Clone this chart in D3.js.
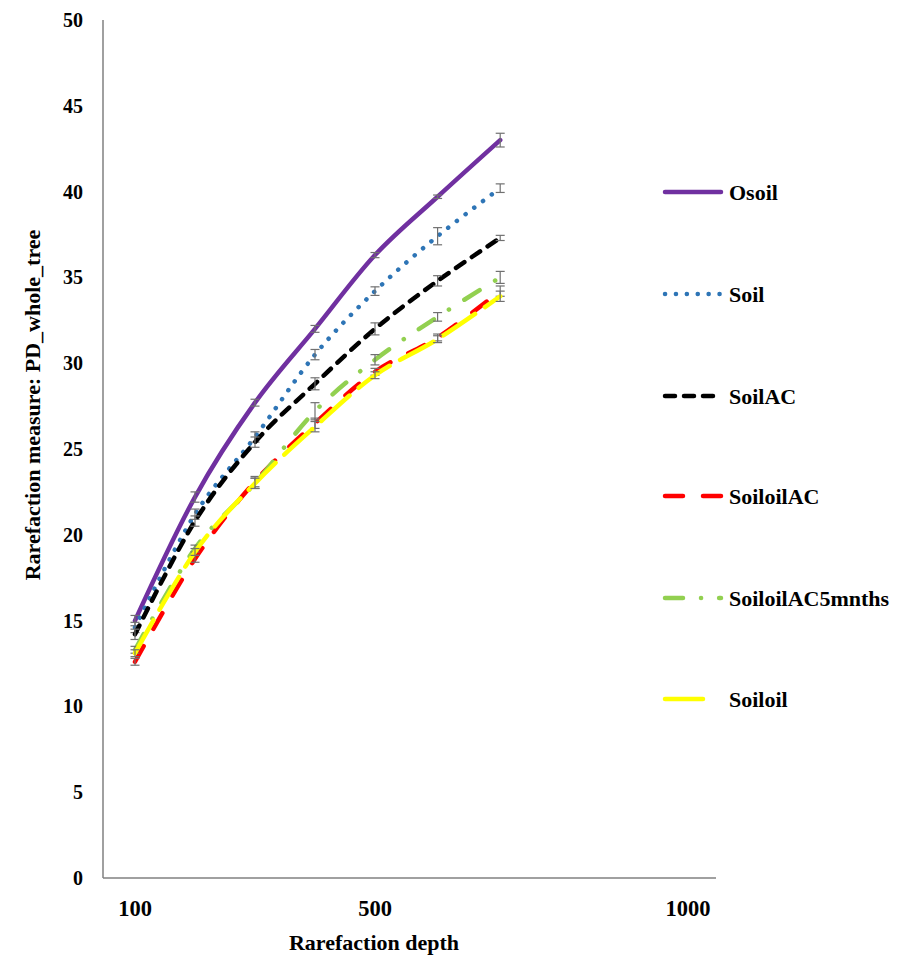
<!DOCTYPE html>
<html><head><meta charset="utf-8">
<script src="https://cdn.jsdelivr.net/npm/d3@7"></script>
<style>body{margin:0;background:#fff}svg{display:block}text{font-family:"Liberation Serif","Times New Roman",serif;font-weight:bold;fill:#000}</style>
</head><body><svg id="c" width="915" height="958"></svg>
<script>
const depths = [100, 200, 300, 400, 500, 600, 700];
const xTicks = [100, 500, 1000];
const yTicks = [0, 5, 10, 15, 20, 25, 30, 35, 40, 45, 50];
const seriesNames = ["Osoil", "Soil", "SoilAC", "SoiloilAC", "SoiloilAC5mnths", "Soiloil"];
const osoil = [15.0, 22.2, 27.7, 32.0, 36.3, 39.7, 43.0];
const soil = [14.6, 21.2, 25.7, 30.5, 34.2, 37.4, 40.2];
const soilAC = [14.2, 20.8, 25.4, 28.8, 32.0, 34.8, 37.3];
const soiloilAC = [12.6, 18.6, 23.1, 26.5, 29.5, 31.5, 34.2];
const soiloilAC5 = [13.3, 19.2, 23.0, 27.2, 30.2, 32.7, 35.0];
const soiloil = [13.1, 19.0, 23.0, 26.3, 29.3, 31.4, 33.9];
const errOsoil = [0.3, 0.3, 0.2, 0.2, 0.15, 0.1, 0.4];
const errSoil = [0.3, 0.3, 0.3, 0.3, 0.25, 0.5, 0.25];
const errSoilAC = [0.3, 0.3, 0.3, 0.35, 0.35, 0.3, 0.15];
const errSoiloilAC = [0.2, 0.2, 0.3, 0.3, 0.2, 0.2, 0.3];
const errSoiloilAC5 = [0.2, 0.2, 0.3, 0.5, 0.3, 0.25, 0.35];
const errSoiloil = [0.2, 0.2, 0.3, 0.3, 0.2, 0.2, 0.3];

const values = [osoil, soil, soilAC, soiloilAC, soiloilAC5, soiloil];
const errs = [errOsoil, errSoil, errSoilAC, errSoiloilAC, errSoiloilAC5, errSoiloil];
const styles = [
  {color:"#7030A0", dash:null, cap:"round"},
  {color:"#2E75B6", dash:"0.1,10.8", cap:"round"},
  {color:"#000000", dash:"10,9", cap:"round"},
  {color:"#FF0000", dash:"18,20", cap:"round"},
  {color:"#92D050", dash:"18,18,0.1,18", cap:"round"},
  {color:"#FFFF00", dash:"38,12", cap:"round"}
];

const svg = d3.select("#c");
const x = d3.scaleLinear().domain([100, 500, 1000]).range([135, 375, 688]);
const y = d3.scaleLinear().domain([0, 50]).range([878, 20]);
const left = 103, right = 716;

// axes
svg.append("line").attr("x1", left).attr("x2", left).attr("y1", y(50)).attr("y2", y(0))
  .attr("stroke", "#808080").attr("stroke-width", 1.5);
svg.append("line").attr("x1", left).attr("x2", right).attr("y1", y(0)).attr("y2", y(0))
  .attr("stroke", "#808080").attr("stroke-width", 1.5);

svg.append("g").selectAll("text").data(yTicks).join("text")
  .attr("x", 83).attr("y", d => y(d)).attr("dy", "0.35em").attr("text-anchor", "end")
  .attr("font-size", 20).text(d => d);
svg.append("g").selectAll("text").data(xTicks).join("text")
  .attr("x", d => x(d)).attr("y", 916).attr("text-anchor", "middle")
  .attr("font-size", 22.5).text(d => d);

svg.append("text").attr("x", 374).attr("y", 950).attr("text-anchor", "middle")
  .attr("font-size", 22).text("Rarefaction depth");
svg.append("text").attr("transform", "translate(40,405) rotate(-90)").attr("text-anchor", "middle")
  .attr("font-size", 22).text("Rarefaction measure: PD_whole_tree");

const line = d3.line().x((d, i) => x(depths[i])).y(d => y(d)).curve(d3.curveCardinal.tension(0));

values.forEach((vals, s) => {
  const st = styles[s];
  svg.append("path").datum(vals).attr("d", line).attr("fill", "none")
    .attr("stroke", st.color).attr("stroke-width", 4.5)
    .attr("stroke-linecap", st.cap).attr("stroke-linejoin", "round")
    .attr("stroke-dasharray", st.dash);
  const g = svg.append("g").attr("stroke", "#707070").attr("stroke-width", 1.2);
  vals.forEach((v, i) => {
    const cx = x(depths[i]), e = errs[s][i];
    g.append("line").attr("x1", cx).attr("x2", cx).attr("y1", y(v + e)).attr("y2", y(v - e));
    g.append("line").attr("x1", cx - 4.5).attr("x2", cx + 4.5).attr("y1", y(v + e)).attr("y2", y(v + e));
    g.append("line").attr("x1", cx - 4.5).attr("x2", cx + 4.5).attr("y1", y(v - e)).attr("y2", y(v - e));
  });
});

// legend
const legY = [192, 294, 396, 496, 598, 699];
seriesNames.forEach((name, s) => {
  const st = styles[s];
  const len = s === 5 ? 42 : 56;
  svg.append("path").attr("d", d3.line()([[665, legY[s]], [665 + len, legY[s]]]))
    .attr("stroke", st.color).attr("stroke-width", 4.5).attr("fill", "none")
    .attr("stroke-linecap", st.cap).attr("stroke-dasharray", st.dash);
  svg.append("text").attr("x", 729).attr("y", legY[s]).attr("dy", "0.35em")
    .attr("font-size", 22).text(name);
});
</script></body></html>
